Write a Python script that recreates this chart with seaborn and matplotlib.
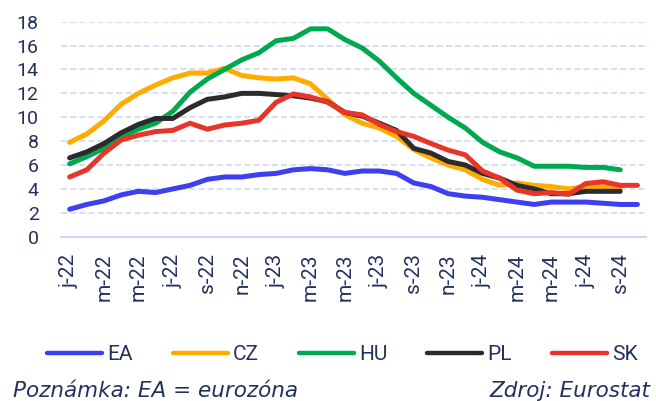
import numpy as np
import pandas as pd
import matplotlib
matplotlib.use('Agg')
import matplotlib.pyplot as plt
import seaborn as sns
from matplotlib.lines import Line2D

# Monthly data Jan 2022 - Oct 2024 (index 0..33)
ea = [2.3, 2.7, 3.0, 3.5, 3.8, 3.7, 4.0, 4.3, 4.8, 5.0, 5.0, 5.2, 5.3, 5.6, 5.7, 5.6, 5.3,
      5.5, 5.5, 5.3, 4.5, 4.2, 3.6, 3.4, 3.3, 3.1, 2.9, 2.7, 2.9, 2.9, 2.9, 2.8, 2.7, 2.7]
cz = [7.9, 8.6, 9.7, 11.1, 12.0, 12.7, 13.3, 13.7, 13.7, 14.1, 13.5, 13.3, 13.2, 13.3, 12.8, 11.5,
      10.2, 9.5, 9.1, 8.4, 7.3, 6.6, 6.0, 5.6, 4.8, 4.3, 4.5, 4.3, 4.2, 4.0, 4.2, 4.2, 4.1, np.nan]
hu = [6.1, 6.7, 7.4, 8.4, 9.0, 9.5, 10.5, 12.1, 13.2, 14.0, 14.8, 15.4, 16.4, 16.6, 17.4, 17.4,
      16.5, 15.8, 14.7, 13.3, 12.0, 11.0, 10.0, 9.1, 7.9, 7.1, 6.6, 5.9, 5.9, 5.9, 5.8, 5.8, 5.6, np.nan]
pl = [6.6, 7.1, 7.8, 8.7, 9.4, 9.9, 9.9, 10.8, 11.5, 11.7, 12.0, 12.0, 11.9, 11.8, 11.6, 11.3,
      10.4, 10.1, 9.5, 8.9, 7.4, 7.0, 6.3, 6.0, 5.3, 4.9, 4.3, 4.0, 3.6, 3.6, 3.8, 3.8, 3.8, np.nan]
sk = [5.0, 5.6, 7.0, 8.1, 8.5, 8.8, 8.9, 9.5, 9.0, 9.35, 9.5, 9.75, 11.25, 11.95, 11.7, 11.25,
      10.4, 10.2, 9.4, 8.8, 8.4, 7.8, 7.25, 6.85, 5.5, 4.9, 3.9, 3.6, 3.7, 3.55, 4.45, 4.6, 4.3, 4.3]

tick_labels = ['j-22', 'm-22', 'm-22', 'j-22', 's-22', 'n-22', 'j-23', 'm-23', 'm-23',
               'j-23', 's-23', 'n-23', 'j-24', 'm-24', 'm-24', 'j-24', 's-24']

countries = ['EA', 'CZ', 'HU', 'PL', 'SK']
colors = {'EA': '#3d3ff0', 'CZ': '#ffab00', 'HU': '#00a94f', 'PL': '#2b2b2d', 'SK': '#e8352a'}
navy = '#24315f'

month = np.arange(len(ea))
df = pd.DataFrame({'month': month, 'EA': ea, 'CZ': cz, 'HU': hu, 'PL': pl, 'SK': sk})
long_df = df.melt(id_vars='month', var_name='country', value_name='value').dropna()

sns.set_style('white')
plt.rcParams['font.family'] = ['Roboto', 'DejaVu Sans']

fig = plt.figure(figsize=(6.56, 4.01), dpi=100)
ax = fig.add_axes([0.093, 0.4097, 0.8918, 0.5362])

sns.lineplot(data=long_df, x='month', y='value', hue='country', hue_order=countries,
             palette=colors, linewidth=3.6, legend=False, ax=ax,
             solid_capstyle='round', solid_joinstyle='round')

ax.set_xlim(-0.5, 33.5)
ax.set_ylim(0, 18)
ax.set_yticks(range(0, 19, 2))
ax.set_xticks(month[::2])
ax.set_xticklabels(tick_labels, rotation=90)
ax.set_xlabel('')
ax.set_ylabel('')

ax.set_axisbelow(True)
ax.yaxis.grid(True, linestyle=(0, (4, 2)), color='#cdd5f4', linewidth=1.1)
ax.xaxis.grid(False)
for s in ['left', 'right', 'top']:
    ax.spines[s].set_visible(False)
ax.spines['bottom'].set_color('#cdd5f4')
ax.spines['bottom'].set_linewidth(1.5)

ax.tick_params(axis='y', length=0, pad=16, labelsize=14, labelcolor=navy)
ax.tick_params(axis='x', length=0, pad=12, labelsize=15, labelcolor=navy)

handles = [Line2D([0], [0], color=colors[c], lw=3.2, solid_capstyle='round') for c in countries]
leg = fig.legend(handles, countries, ncol=5, loc='center', bbox_to_anchor=(0.522, 1 - 355 / 401),
                 frameon=False, handlelength=2.65, handletextpad=0.25, columnspacing=1.9,
                 fontsize=15)
for t in leg.get_texts():
    t.set_color(navy)

fig.text(13 / 656, 1 - 391 / 401, 'Poznámka: EA = eurozóna', style='italic',
         family=['DejaVu Sans'], fontsize=15.5, color=navy, va='center', ha='left')
fig.text(489 / 656, 1 - 391 / 401, 'Zdroj: Eurostat', style='italic',
         family=['DejaVu Sans'], fontsize=15.5, color=navy, va='center', ha='left')

fig.savefig('out.png', dpi=100)
